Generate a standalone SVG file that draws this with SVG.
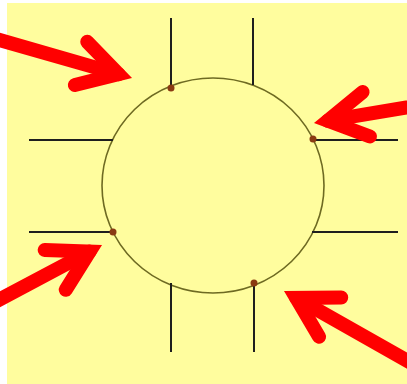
<svg xmlns="http://www.w3.org/2000/svg" width="407" height="384" viewBox="0 0 407 384">
  <style>
    .bg { fill: #FFFD9E; }
    .line { stroke: #1E1E1E; stroke-width: 2; fill: none; }
    .circ { stroke: #6E6A22; stroke-width: 1.6; fill: none; }
    .dot { fill: #8A3A12; }
    .arrow { stroke: #FF0000; stroke-width: 14; fill: none; stroke-linecap: round; }
    .head { stroke-linejoin: miter; stroke-miterlimit: 4; }
  </style>
  <defs>
    <g id="arrowShape">
      <path class="arrow" d="M -14 0 L -260 0"/>
      <path class="arrow head" d="M -53 -22.5 L -14 0 L -53 22.5"/>
    </g>
  </defs>
  <rect class="bg" x="7" y="3" width="400" height="381"/>
  <g id="figure">
    <ellipse id="circle" class="circ" cx="213" cy="185.5" rx="111" ry="107.5"/>
    <g id="lines">
      <line class="line" x1="171" y1="18" x2="171" y2="88"/>
      <line class="line" x1="253" y1="18" x2="253" y2="85"/>
      <line class="line" x1="29" y1="140" x2="113" y2="140"/>
      <line class="line" x1="313" y1="140" x2="398" y2="140"/>
      <line class="line" x1="29" y1="232" x2="113" y2="232"/>
      <line class="line" x1="312" y1="232" x2="398" y2="232"/>
      <line class="line" x1="171" y1="283" x2="171" y2="352"/>
      <line class="line" x1="254" y1="283" x2="254" y2="352"/>
    </g>
    <g id="dots">
      <circle class="dot" cx="171" cy="88" r="3.5"/>
      <circle class="dot" cx="313" cy="139" r="3.5"/>
      <circle class="dot" cx="113" cy="232" r="3.5"/>
      <circle class="dot" cx="254" cy="283" r="3.5"/>
    </g>
  </g>
  <g id="arrows">
    <use href="#arrowShape" transform="translate(132,78) rotate(16)"/>
    <use href="#arrowShape" transform="translate(314,123) rotate(170.5)"/>
    <use href="#arrowShape" transform="translate(102,245) rotate(-28)"/>
    <use href="#arrowShape" transform="translate(284,291) rotate(209.5)"/>
  </g>
</svg>
